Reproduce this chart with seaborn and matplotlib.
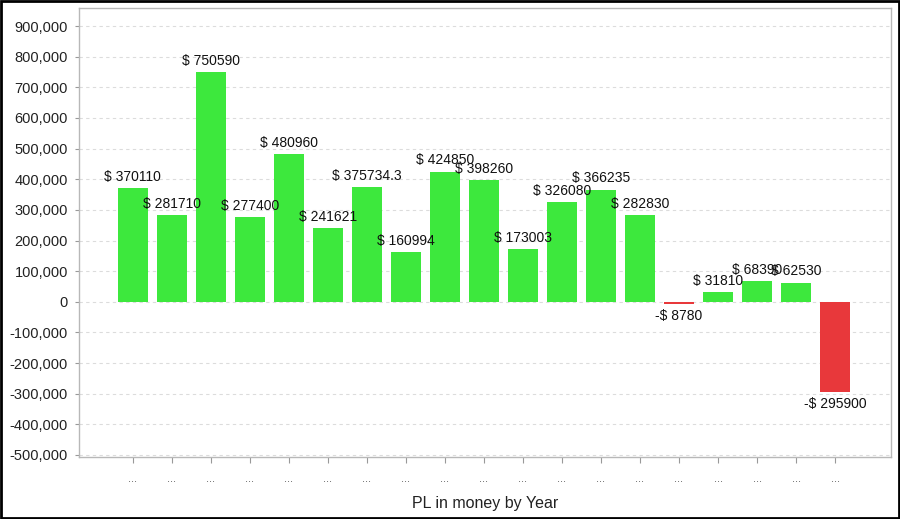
import matplotlib
matplotlib.use("Agg")
import matplotlib.pyplot as plt
import matplotlib.ticker as mticker
from matplotlib.patches import Rectangle
import seaborn as sns
import pandas as pd

# values
YEARS = [f"y{i}" for i in range(1, 20)]
XTICK_LABELS = ["...", "...", "...", "...", "...", "...", "...", "...", "...", "...",
                "...", "...", "...", "...", "...", "...", "...", "...", "..."]
PL = [370110, 281710, 750590, 277400, 480960, 241621, 375734.3, 160994, 424850,
      398260, 173003, 326080, 366235, 282830, -8780, 31810, 68390, 62530, -295900]

GREEN = "#3de83d"
RED = "#e8383b"

sns.set_theme(style="white")
plt.rcParams["font.family"] = ["Liberation Sans", "DejaVu Sans"]

df = pd.DataFrame({"year": YEARS, "pl": PL})
colors = [GREEN if v >= 0 else RED for v in PL]

fig = plt.figure(figsize=(9, 5.19), dpi=100)
ax = fig.add_axes([0.0878, 0.1195, 0.902, 0.865])

sns.barplot(data=df, x="year", y="pl", hue="year", palette=colors, order=YEARS,
            width=0.77, legend=False, saturation=1, linewidth=0, ax=ax, zorder=3)


def money(v):
    s = f"{abs(v):.10g}"
    return f"-$ {s}" if v < 0 else f"$ {s}"


for i, v in enumerate(PL):
    ax.annotate(money(v), (i, v), xytext=(0, 3 if v >= 0 else -3),
                textcoords="offset points", ha="center",
                va="bottom" if v >= 0 else "top", fontsize=10, color="#111111",
                zorder=4)

ax.set_ylim(-506500, 958800)
ax.set_xlim(-1.38, 18 + 1.43)
ax.yaxis.set_major_locator(mticker.MultipleLocator(100000))
ax.yaxis.set_major_formatter(mticker.FuncFormatter(lambda x, _: f"{x:,.0f}"))
ax.set_xticks(range(len(YEARS)))
ax.set_xticklabels(XTICK_LABELS, fontsize=8, color="#555555")
ax.tick_params(axis="x", length=4, width=0.8, color="#999999", pad=8, direction="out",
               bottom=True)
ax.tick_params(axis="y", length=3, width=0.8, color="#999999", labelsize=10.5,
               labelcolor="#222222", pad=5, direction="out", left=True)
ax.grid(axis="y", linestyle=(0, (3, 3)), color="#dcdcdc", linewidth=0.8, zorder=0)
ax.set_xlabel("PL in money by Year", fontsize=11.5, color="#222222", labelpad=9)
ax.set_ylabel("")
for sp in ax.spines.values():
    sp.set_color("#b8b8b8")
    sp.set_linewidth(1)

fig.patches.append(Rectangle((0.001, 0.001), 0.998, 0.997, transform=fig.transFigure,
                             fill=False, edgecolor="black", linewidth=2))

fig.savefig("out.png", dpi=100)
